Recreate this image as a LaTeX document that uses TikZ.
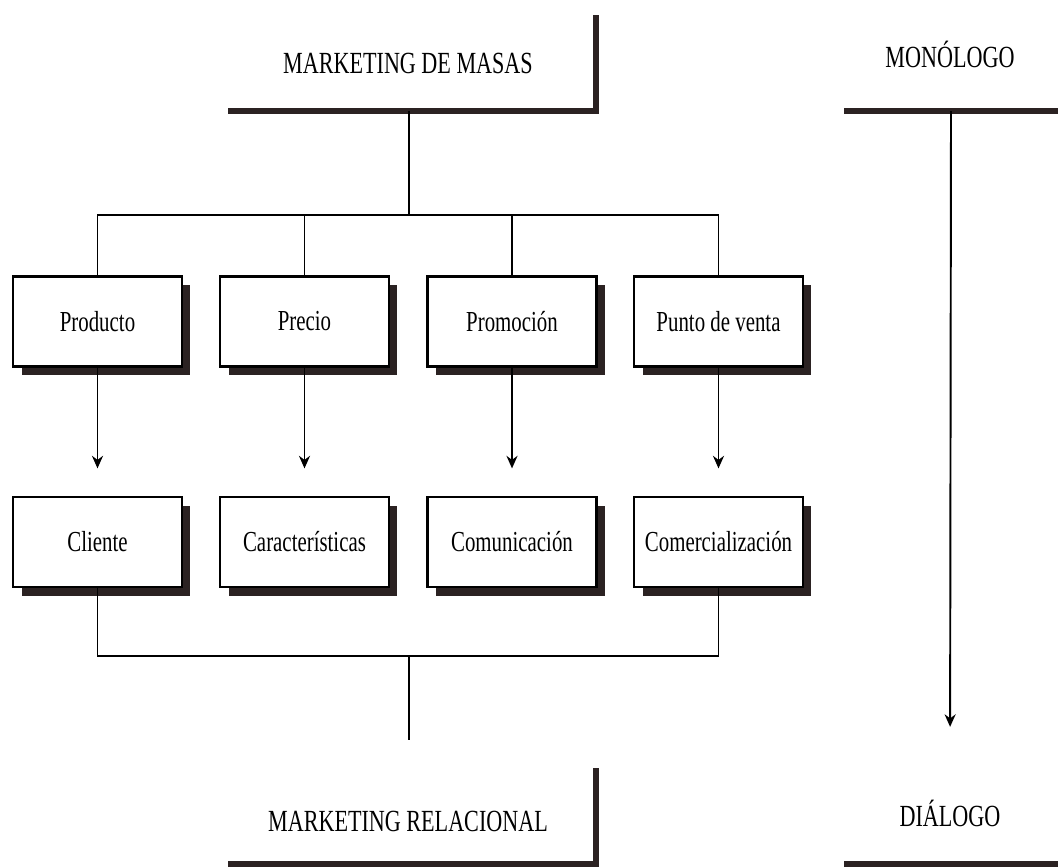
\documentclass[tikz,border=0pt]{standalone}
\usepackage{fontspec}
\setmainfont{Liberation Serif}[FakeStretch=0.72]
\usetikzlibrary{arrows.meta,shadows}
\definecolor{inkdark}{HTML}{2B2222}

\begin{document}
\begin{tikzpicture}[
  x=0.02cm,y=-0.02cm,
  line width=1.1pt,
  title/.style={font=\fontsize{17.5}{20}\selectfont},
  block/.style={draw,line width=1.3pt,fill=white,minimum width=3.38cm,minimum height=1.8cm,
    font=\fontsize{16.5}{19}\selectfont,
    drop shadow={shadow xshift=0.17cm,shadow yshift=-0.17cm,fill=inkdark,opacity=1}},
  bar/.style={draw=inkdark,line width=3pt},
  arr/.style={-{Stealth[length=0.25cm,width=0.22cm,inset=0.08cm]},shorten >=0.55cm}
]
  \useasboundingbox (0,0) rectangle (1058,866);

  % cabeceras
  \node[title] (masas) at (408,63) {MARKETING DE MASAS};
  \draw[bar] (228,111) -- (596,111) -- (596,15);
  \node[title] (mono) at (950,54) {MONÓLOGO};
  \draw[bar] (844,111) -- (1060,111);
  \coordinate (masasbar) at (409,111);
  \coordinate (monobar) at (951,111);
  \coordinate (split) at (409,215);

  % las 4 P
  \node[block] (prod)  at (97.5,321.5)  {Producto};
  \node[block] (prec)  at (304.5,321.5) {Precio};
  \node[block] (promo) at (512,321.5)   {Promoción};
  \node[block] (punto) at (718.5,321.5) {Punto de venta};

  % las 4 C
  \node[block] (cli)   at (97.5,542)  {Cliente};
  \node[block] (carac) at (304.5,542) {Características};
  \node[block] (comu)  at (512,542)   {Comunicación};
  \node[block] (comer) at (718.5,542) {Comercialización};
  \coordinate (join) at (409,656);

  % pie
  \node[title] (rel) at (408,821) {MARKETING RELACIONAL};
  \draw[bar] (596,768) -- (596,864) -- (228,864);
  \node[title] (dia) at (950,813) {DIÁLOGO};
  \draw[bar] (844,864) -- (1060,864);

  % conexiones
  \draw (masasbar) -- (split);
  \draw (prod.north) |- (split) -| (punto.north);
  \draw (prec.north) -- (prec.north |- split);
  \draw (promo.north) -- (promo.north |- split);
  \foreach \a/\b in {prod/cli,prec/carac,promo/comu,punto/comer}
    \draw[arr] (\a.south) -- (\b.north);
  \draw (cli.south) |- (join) -| (comer.south);
  \draw (join) -- ++(0,84);
  \draw[arr,shorten >=1.32cm] (monobar) -- (dia.north);
\end{tikzpicture}
\end{document}
